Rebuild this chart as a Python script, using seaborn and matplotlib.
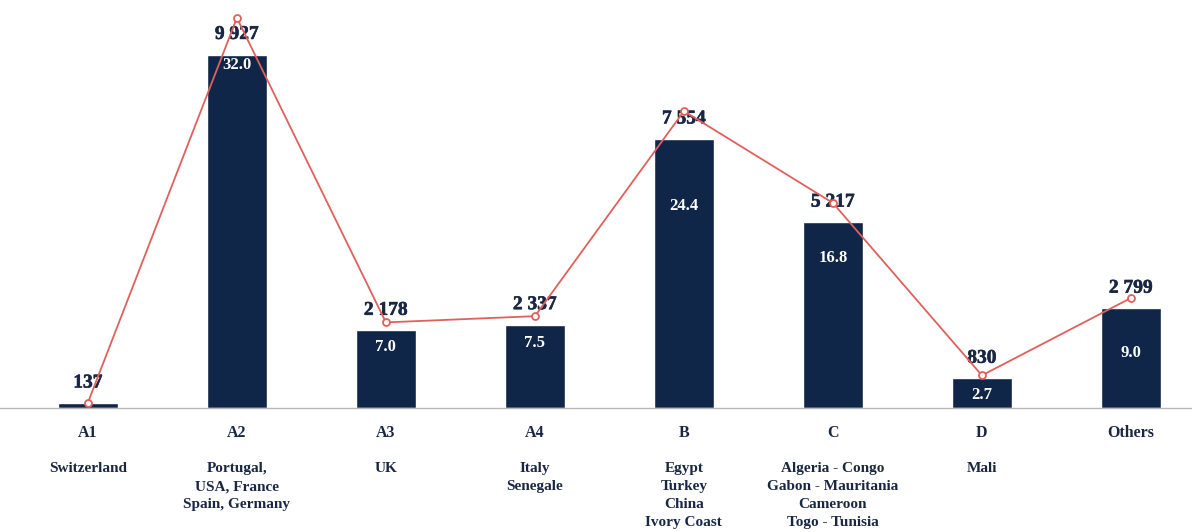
import matplotlib
matplotlib.use("Agg")
import matplotlib.pyplot as plt
import matplotlib.patheffects as pe
from matplotlib.font_manager import FontProperties
import seaborn as sns
import numpy as np

# ---- data ----
codes = ["A1", "A2", "A3", "A4", "B", "C", "D", "Others"]
countries = [
    "Switzerland",
    "Portugal,\nUSA, France\nSpain, Germany",
    "UK",
    "Italy\nSenegale",
    "Egypt\nTurkey\nChina\nIvory Coast",
    "Algeria - Congo\nGabon - Mauritania\nCameroon\nTogo - Tunisia",
    "Mali",
    "",
]
values = [137, 9927, 2178, 2337, 7554, 5217, 830, 2799]
shares = [None, 32.0, 7.0, 7.5, 24.4, 16.8, 2.7, 9.0]

# ---- layout (not data) ----
share_label_frac = [None, 0.97, 0.79, 0.78, 0.75, 0.81, 0.44, 0.55]

NAVY = "#0f2649"
TEXT = "#1a2744"
RED = "#e0605c"

sns.set_theme(style="white")
plt.rcParams["font.family"] = ["Liberation Serif", "DejaVu Serif"]

fig = plt.figure(figsize=(11.92, 5.32), dpi=100)
ax = fig.add_axes([0.0, 124 / 532, 1.0, 408 / 532])

sns.barplot(x=codes, y=values, color=NAVY, width=0.4, saturation=1, ax=ax)
ax.set_ylim(0, 11460)

ax2 = ax.twinx()
sns.pointplot(x=codes, y=values, ax=ax2, color=RED, markers="o", linestyles="-",
              markersize=5, linewidth=1.3, markerfacecolor="white",
              markeredgecolor=RED, markeredgewidth=1.3)
ax2.set_ylim(0, 10382)
ax2.set_yticks([])
ax2.set_ylabel("")
for s in ax2.spines.values():
    s.set_visible(False)

ax.set_xlim(-0.59, 7.41)
ax.set_yticks([])
ax.set_ylabel("")
for k in ["top", "right", "left"]:
    ax.spines[k].set_visible(False)
ax.spines["bottom"].set_color("#b8b8b8")
ax.spines["bottom"].set_linewidth(1.0)
ax.tick_params(axis="x", length=0, pad=12, labelsize=11.5, labelcolor=TEXT)
ax.set_xticks(range(len(codes)))
ax.set_xticklabels(codes, fontweight="bold")

bold14 = FontProperties(family="Liberation Serif", weight="bold", size=14)
thick = [pe.withStroke(linewidth=0.4, foreground=TEXT)]

# value labels above bars
for i, v in enumerate(values):
    ax.annotate(f"{v:,}".replace(",", " "), (i, v), xytext=(0, 14.5),
                textcoords="offset points", ha="center", va="center",
                fontproperties=bold14, color=TEXT, zorder=5,
                path_effects=thick)

# share labels in bars
for i, (s, f) in enumerate(zip(shares, share_label_frac)):
    if s is None:
        continue
    ax.text(i, values[i] * f, f"{s:.1f}", ha="center", va="center",
            fontsize=12, fontweight="bold", color="white", zorder=5)

# country names
for i, c in enumerate(countries):
    ax.text(i, -0.133, c, transform=ax.get_xaxis_transform(), ha="center",
            va="top", fontsize=11, fontweight="bold", color=TEXT,
            linespacing=1.48)

ax2.set_zorder(ax.get_zorder() + 1)
ax.patch.set_visible(False)

fig.savefig("out.png", dpi=100)
